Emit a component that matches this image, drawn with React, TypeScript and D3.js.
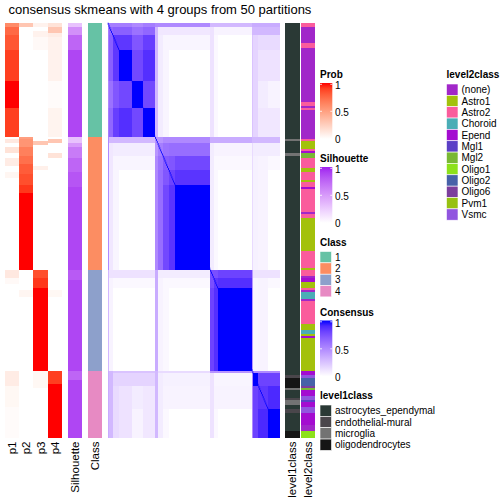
import React from "react";
import * as d3 from "d3";

const TITLE = "consensus skmeans with 4 groups from 50 partitions";

// ---- annotation tracks (run-length: [sample count, value]) ----
const classRuns: [number, number][] = [[55, 1], [64, 2], [49, 3], [32, 4]];

const p1Runs: [number, number][] = [
  [2, 0.6], [4, 0.75], [7, 0.82], [15, 0.9], [13, 1.0], [14, 0.9],
  [1, 0], [2, 0.12], [2, 0], [3, 0.15], [2, 0], [4, 0.1], [3, 0], [3, 0.05], [44, 0],
  [4, 0.12], [3, 0.03], [42, 0],
  [1, 0.1], [6, 0.1], [10, 0.04], [15, 0.02],
];
const p2Runs: [number, number][] = [
  [2, 0.3], [53, 0],
  [1, 0.5], [4, 0.55], [4, 0.65], [4, 0.72], [5, 0.8], [5, 0.85], [4, 0.92], [37, 1.0],
  [10, 0], [3, 0.05], [36, 0],
  [32, 0],
];
const p3Runs: [number, number][] = [
  [2, 0.07], [2, 0], [3, 0.07], [6, 0.03], [42, 0],
  [2, 0], [2, 0.3], [10, 0], [2, 0.08], [48, 0],
  [4, 0.85], [5, 0.92], [40, 1.0],
  [8, 0.04], [24, 0],
];
const p4Runs: [number, number][] = [
  [2, 0.15], [3, 0.3], [2, 0.1], [21, 0.07], [13, 0.02], [14, 0.06],
  [1, 0], [2, 0.3], [5, 0], [2, 0.15], [54, 0],
  [10, 0], [3, 0.04], [36, 0],
  [6, 0.9], [26, 1.0],
];
const silRuns: [number, number][] = [
  [2, 0.3], [4, 0.55], [7, 0.75], [42, 0.88],
  [3, 0.3], [2, 0.5], [5, 0.65], [7, 0.75], [7, 0.82], [40, 0.88],
  [5, 0.8], [44, 0.88],
  [4, 0.75], [28, 0.88],
];

const level1Names = ["astrocytes_ependymal", "endothelial-mural", "microglia", "oligodendrocytes"];
const level1Colors = ["#2A3935", "#4A464B", "#737373", "#151515"];
const level1Runs: [number, string][] = [
  [56, "astrocytes_ependymal"], [1, "microglia"], [6, "astrocytes_ependymal"], [1, "microglia"],
  [106, "astrocytes_ependymal"], [1, "endothelial-mural"], [5, "oligodendrocytes"], [1, "microglia"],
  [4, "astrocytes_ependymal"], [1, "endothelial-mural"], [2, "microglia"], [2, "astrocytes_ependymal"],
  [2, "endothelial-mural"], [9, "astrocytes_ependymal"], [3, "oligodendrocytes"],
];

const level2Names = ["(none)", "Astro1", "Astro2", "Choroid", "Epend", "Mgl1", "Mgl2", "Oligo1", "Oligo2", "Oligo6", "Pvm1", "Vsmc"];
const level2Colors = ["#A127C9", "#A3C10B", "#FA5C9C", "#4AADB6", "#A40CD0", "#5B3FC6", "#79B834", "#8DE11B", "#4761A8", "#7C3E9D", "#97C112", "#9155DF"];
const level2Runs: [number, string][] = [
  [2, "Astro2"], [8, "(none)"], [2, "Astro2"], [26, "(none)"], [2, "Astro2"], [1, "(none)"], [1, "Astro2"], [14, "(none)"],
  [1, "Astro2"], [4, "Astro1"], [1, "Astro2"], [1, "Epend"], [2, "Mgl2"], [5, "Astro2"], [2, "Astro1"], [4, "Astro2"],
  [1, "Astro1"], [2, "Astro2"], [1, "Epend"], [11, "Astro2"], [1, "(none)"], [2, "Astro2"], [16, "Astro1"], [8, "Astro2"],
  [1, "Astro1"], [3, "Astro2"], [1, "(none)"], [2, "Epend"], [3, "Astro1"], [1, "Astro2"], [1, "(none)"], [3, "Choroid"],
  [1, "(none)"], [11, "Astro2"], [3, "Astro1"], [2, "Choroid"], [1, "Astro1"], [1, "Epend"], [16, "Astro1"], [2, "Epend"],
  [1, "Vsmc"], [4, "Oligo2"], [1, "Oligo6"], [1, "Mgl2"], [3, "Epend"], [2, "Vsmc"], [1, "Mgl1"], [2, "Epend"],
  [3, "Vsmc"], [6, "Epend"], [3, "(none)"], [3, "Oligo1"],
];

// ---- consensus matrix, described by sub-blocks of samples ----
const blockSizes = [2, 4, 7, 15, 13, 14, 3, 6, 7, 7, 41, 4, 5, 40, 1, 6, 11, 14];
const blockClass = [1, 1, 1, 1, 1, 1, 2, 2, 2, 2, 2, 3, 3, 3, 4, 4, 4, 4];
const within1 = [
  [0.5, 0.55, 0.55, 0.55, 0.5, 0.55],
  [0.55, 0.65, 0.68, 0.68, 0.6, 0.65],
  [0.55, 0.68, 0.85, 0.85, 0.72, 0.82],
  [0.55, 0.68, 0.85, 1.0, 0.78, 0.88],
  [0.5, 0.6, 0.72, 0.78, 1.0, 0.78],
  [0.55, 0.65, 0.82, 0.88, 0.78, 1.0],
];
const within2 = [
  [0.45, 0.45, 0.5, 0.5, 0.5],
  [0.45, 0.55, 0.6, 0.62, 0.62],
  [0.5, 0.6, 0.7, 0.72, 0.78],
  [0.5, 0.62, 0.72, 0.8, 0.86],
  [0.5, 0.62, 0.78, 0.86, 1.0],
];
const within3 = [
  [0.75, 0.75, 0.8],
  [0.75, 0.85, 0.88],
  [0.8, 0.88, 1.0],
];
const within4 = [
  [0.5, 0.5, 0.5, 0.5],
  [0.5, 1.0, 0.8, 0.8],
  [0.5, 0.8, 0.85, 0.9],
  [0.5, 0.8, 0.9, 1.0],
];
// consensus of each block toward samples of class 1..4 (own class unused)
const crossTo = [
  [0, 0.5, 0.3, 0.35],
  [0, 0.1, 0.05, 0.3],
  [0, 0.04, 0, 0.15],
  [0, 0, 0, 0.12],
  [0, 0, 0, 0.04],
  [0, 0, 0, 0.1],
  [0.3, 0, 0.35, 0.3],
  [0.08, 0, 0.05, 0.08],
  [0.04, 0, 0.03, 0.03],
  [0, 0, 0, 0],
  [0, 0, 0, 0],
  [0.12, 0.08, 0, 0.12],
  [0.03, 0.03, 0, 0.03],
  [0, 0, 0, 0],
  [0.25, 0.15, 0.45, 0],
  [0.18, 0.06, 0.04, 0],
  [0.08, 0.05, 0.05, 0],
  [0.05, 0, 0, 0],
];

const classNames = ["1", "2", "3", "4"];
const classColors = ["#66C2A5", "#FC8D62", "#8DA0CB", "#E78AC3"];

const FONT = "'Liberation Sans', Arial, Helvetica, sans-serif";

function runsToSegments<T>(runs: [number, T][]) {
  let s = 0;
  return runs.map(([n, v]) => {
    const seg = { start: s, end: s + n, v };
    s += n;
    return seg;
  });
}

export default function App() {
  const N = d3.sum(classRuns, (d) => d[0]);
  const TOP = 22.7;
  const BOTTOM = 437.7;
  const y = d3.scaleLinear().domain([0, N]).range([TOP, BOTTOM]);
  const xHm = d3.scaleLinear().domain([0, N]).range([107.7, 280]);

  const probColor = d3.scaleLinear<string>().domain([0, 1]).range(["#FFFFFF", "#FF0000"]).interpolate(d3.interpolateLab);
  const silColor = d3.scaleLinear<string>().domain([0, 1]).range(["#FFFFFF", "#A020F0"]).interpolate(d3.interpolateLab);
  const consColor = d3.scaleLinear<string>().domain([0, 1]).range(["#FFFFFF", "#0000FF"]).interpolate(d3.interpolateLab);
  const classColor = d3.scaleOrdinal<string, string>().domain(classNames).range(classColors);
  const l1Color = d3.scaleOrdinal<string, string>().domain(level1Names).range(level1Colors);
  const l2Color = d3.scaleOrdinal<string, string>().domain(level2Names).range(level2Colors);

  // blocks
  const withins = [within1, within2, within3, within4];
  let acc = 0;
  const firstOfClass: Record<number, number> = {};
  const blocks = blockSizes.map((n, i) => {
    const c = blockClass[i];
    if (firstOfClass[c] === undefined) firstOfClass[c] = i;
    const b = { start: acc, end: acc + n, cls: c, local: i - firstOfClass[c], idx: i };
    acc += n;
    return b;
  });
  const cells: { a: typeof blocks[0]; b: typeof blocks[0]; v: number }[] = [];
  blocks.forEach((a) => {
    blocks.forEach((b) => {
      let v: number;
      if (a.cls === b.cls) v = withins[a.cls - 1][a.local][b.local];
      else v = Math.max(crossTo[a.idx][b.cls - 1], crossTo[b.idx][a.cls - 1]);
      cells.push({ a, b, v });
    });
  });
  const diag = d3.range(N);

  const pCols = [p1Runs, p2Runs, p3Runs, p4Runs];
  const pX = [5, 19.2, 33.4, 47.6];
  const colW = 14.2;

  const track = (segs: { start: number; end: number; v: any }[], x: number, w: number, color: (v: any) => string, key: string) =>
    segs.map((s, i) => (
      <rect key={key + i} x={x} y={y(s.start)} width={w} height={y(s.end) - y(s.start)} fill={color(s.v)} shapeRendering="crispEdges" />
    ));

  const bottomLabels: [string, number][] = [
    ["p1", pX[0] + colW / 2],
    ["p2", pX[1] + colW / 2],
    ["p3", pX[2] + colW / 2],
    ["p4", pX[3] + colW / 2],
    ["Silhouette", 67.7 + 7],
    ["Class", 87.7 + 7],
    ["level1class", 285.3 + 7.1],
    ["level2class", 301 + 7],
  ];

  const colorbar = (id: string, title: string, titleY: number, scale: (v: number) => string) => {
    const top = titleY + 5;
    const h = 56;
    const lx = 320;
    const breaks = [1, 0.5, 0];
    const by = (v: number) => top + 1.3 + (1 - v) * (h - 2);
    return (
      <g key={id}>
        <defs>
          <linearGradient id={id} x1="0" y1="1" x2="0" y2="0">
            {d3.range(0, 1.001, 0.1).map((t) => (
              <stop key={t} offset={t} stopColor={scale(t)} />
            ))}
          </linearGradient>
        </defs>
        <text x={lx} y={titleY} fontFamily={FONT} fontSize={10} fontWeight="bold">{title}</text>
        <rect x={lx} y={top} width={12.3} height={h} fill={`url(#${id})`} />
        {breaks.map((b) => (
          <g key={b}>
            <line x1={lx} x2={lx + 2} y1={by(b)} y2={by(b)} stroke="white" strokeWidth={0.8} />
            <line x1={lx + 10.3} x2={lx + 12.3} y1={by(b)} y2={by(b)} stroke="white" strokeWidth={0.8} />
            <text x={335} y={by(b) + 5} fontFamily={FONT} fontSize={10}>{String(b)}</text>
          </g>
        ))}
      </g>
    );
  };

  const discrete = (key: string, title: string, x: number, titleY: number, names: string[], colors: string[]) => (
    <g key={key}>
      <text x={x} y={titleY} fontFamily={FONT} fontSize={10} fontWeight="bold">{title}</text>
      {names.map((n, i) => (
        <g key={n}>
          <rect x={x} y={titleY + 6 + i * 11.35} width={11.5} height={11.35} fill={colors[i]} stroke="white" strokeWidth={0.6} />
          <text x={x + 15} y={titleY + 6 + i * 11.35 + 9.2} fontFamily={FONT} fontSize={10}>{n}</text>
        </g>
      ))}
    </g>
  );

  return (
    <svg width={504} height={504} style={{ position: "absolute", left: 0, top: 0, background: "white" }}>
      <rect width={504} height={504} fill="white" />
      <text x={160} y={14} textAnchor="middle" fontFamily={FONT} fontSize={13}>{TITLE}</text>

      {pCols.map((runs, k) => track(runsToSegments(runs), pX[k], colW, (v) => probColor(v), "p" + k))}
      {track(runsToSegments(silRuns), 67.7, 14, (v) => silColor(v), "sil")}
      {track(runsToSegments(classRuns), 87.7, 14, (v) => classColor(String(v)), "cls")}

      <g>
        {cells.map((c, i) => (
          <rect key={"c" + i} x={xHm(c.b.start)} y={y(c.a.start)} width={xHm(c.b.end) - xHm(c.b.start)} height={y(c.a.end) - y(c.a.start)} fill={consColor(c.v)} shapeRendering="crispEdges" />
        ))}
        {diag.map((i) => (
          <rect key={"d" + i} x={xHm(i)} y={y(i)} width={xHm(i + 1) - xHm(i)} height={y(i + 1) - y(i)} fill={consColor(1)} />
        ))}
      </g>

      {track(runsToSegments(level1Runs), 285.3, 14.2, (v) => l1Color(v), "l1")}
      {track(runsToSegments(level2Runs), 301, 14, (v) => l2Color(v), "l2")}

      {bottomLabels.map(([t, cx]) => (
        <text key={t} transform={`translate(${cx},441.5) rotate(-90)`} textAnchor="end" dy="0.35em" fontFamily={FONT} fontSize={11.5}>{t}</text>
      ))}

      {colorbar("gProb", "Prob", 78, (v) => probColor(v))}
      {colorbar("gSil", "Silhouette", 162, (v) => silColor(v))}
      {discrete("lgClass", "Class", 320, 245.5, classNames, classColors)}
      {colorbar("gCons", "Consensus", 315.5, (v) => consColor(v))}
      {discrete("lgL1", "level1class", 320, 399, level1Names, level1Colors)}
      {discrete("lgL2", "level2class", 446.5, 78, level2Names, level2Colors)}
    </svg>
  );
}
